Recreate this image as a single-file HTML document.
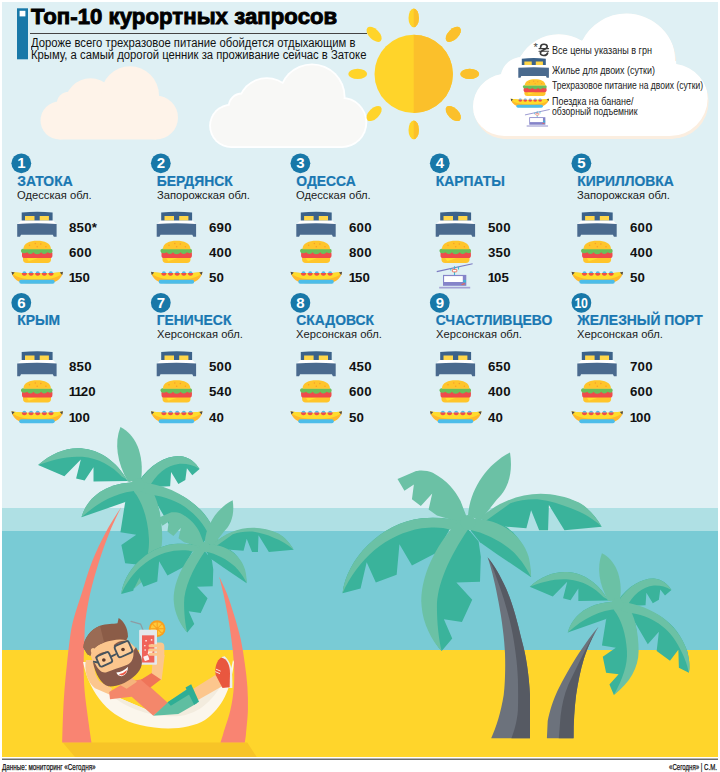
<!DOCTYPE html>
<html lang="ru"><head><meta charset="utf-8"><title>Топ-10 курортных запросов</title>
<style>
html,body{margin:0;padding:0;background:#fff;}
body{width:720px;height:772px;position:relative;overflow:hidden;font-family:"Liberation Sans",sans-serif;color:#1a1a1a;}
svg.bg{position:absolute;left:0;top:0;}
div{position:absolute;white-space:nowrap;transform-origin:0 50%;line-height:1;}
.title{left:30.6px;top:6.3px;font-size:22.5px;font-weight:bold;color:#000;transform:scaleX(0.985);-webkit-text-stroke:0.9px #000;letter-spacing:0.05px;}
.sub{left:31px;font-size:12px;transform:scaleX(0.94);color:#111;}
.num{width:20px;text-align:center;color:#fff;font-weight:bold;font-size:15px;line-height:20px;transform-origin:50% 50%;}
.n10{transform:scaleX(0.82);letter-spacing:-0.5px;}
.nm{font-size:13.9px;font-weight:bold;color:#1a78b2;-webkit-text-stroke:0.2px #1a78b2;}
.rg{font-size:11.6px;transform:scaleX(0.965);color:#1a1a1a;}
.vl{font-size:12.2px;font-weight:bold;color:#111;transform:scaleX(1.09);letter-spacing:0.2px;}
.vl i{font-style:normal;margin:0 -1.3px 0 -0.3px;}
.lg{font-size:11px;color:#222;}
.hr{font-size:16.5px;color:#3a3a3a;transform:scaleX(0.98);-webkit-text-stroke:0.35px #3a3a3a;}
.ast{font-size:11px;color:#3a3a3a;}
.ft{font-size:9.6px;color:#111;top:761.6px;-webkit-text-stroke:0.25px #111;}
</style></head><body>
<svg class="bg" width="720" height="772" viewBox="0 0 720 772">
<defs>
<symbol id="bed" width="40" height="26" viewBox="0 0 40 26" overflow="visible">
<path d="M4.5,9.4 V1 Q20,-0.7 35.4,1 V9.4 Z" fill="#3c6289"/>
<rect x="7.8" y="4.5" width="9.5" height="4.6" fill="#ffd648"/><rect x="22.5" y="4.5" width="9.2" height="4.6" fill="#ffd648"/>
<path d="M4.1,9 H35.8 L39.2,12.5 H0.3 Z" fill="#fff"/>
<path d="M0,12.4 Q19.7,11.2 39.4,12.4 V25.3 H36.6 L35.6,23.2 H3.8 L2.8,25.3 H0 Z" fill="#4a6a8e"/>
</symbol><symbol id="burger" width="32" height="23" viewBox="0 0 32 23" overflow="visible">
<path d="M2.1,17 H30.1 V19 Q30.1,22.4 26.5,22.4 H5.7 Q2.1,22.4 2.1,19 Z" fill="#ffc52b"/>
<path d="M5.8,17.6 H16.7 L7.9,20.6 Z" fill="#ffe32e"/>
<rect x="1.1" y="10.5" width="30.4" height="6.9" rx="2.6" fill="#ef4b4b"/>
<path d="M1.8,8.2 H29.9 Q31.9,8.4 31.7,10.6 Q31.3,12.9 29,12.6 Q27.4,12.2 26.6,11.6 Q25.2,13.6 23,13.4 Q21.2,13.2 20.3,11.7 Q18.6,13.9 16,13.7 Q13.6,13.5 12.6,11.7 Q11.4,13.5 9.2,13.3 Q7.2,13.1 6.3,11.6 Q5,12.7 3,12.7 Q0.2,12.6 0,10.4 Q-0.1,8.4 1.8,8.2 Z" fill="#6abf5b"/>
<path d="M2.5,8.6 C2.5,2.6 9,0.2 16.2,0.2 C23.5,0.2 30,2.6 30,8.6 Z" fill="#ffc52b"/>
<g fill="#f59d2e"><circle cx="8.6" cy="4.7" r="0.75"/><circle cx="14.4" cy="2.9" r="0.75"/><circle cx="19.9" cy="3.5" r="0.75"/><circle cx="16.3" cy="6.1" r="0.75"/><circle cx="25" cy="6.1" r="0.75"/></g>
</symbol><symbol id="banana" width="52" height="14" viewBox="0 0 52 14" overflow="visible"><path d="M0,1.4 Q25.7,4.6 51.5,1.4 C50.5,8 44,12.7 36,12.7 H15.5 C7.5,12.7 1,8 0,1.4 Z" fill="#ffb92a"/><path d="M0,1.4 Q25.7,4.6 51.5,1.4 C49,6.5 40,8.8 25.7,8.8 C11.5,8.8 2.5,6.5 0,1.4Z" fill="#ffdc2b"/><path d="M0,1.2 L3.2,2 L0.8,4.6 Z M51.5,1.2 L48.3,2 L50.7,4.6 Z" fill="#4b4b52"/><path d="M10.90,2.7 A2.0,1.9 0 0 1 14.90,2.7 Z" fill="#4fbbe8"/><path d="M10.30,2.6 A2.6,2.7 0 0 0 15.50,2.6 Z" fill="#ef4f49"/><path d="M17.55,2.7 A2.0,1.9 0 0 1 21.55,2.7 Z" fill="#4fbbe8"/><path d="M16.95,2.6 A2.6,2.7 0 0 0 22.15,2.6 Z" fill="#ef4f49"/><path d="M24.20,2.7 A2.0,1.9 0 0 1 28.20,2.7 Z" fill="#4fbbe8"/><path d="M23.60,2.6 A2.6,2.7 0 0 0 28.80,2.6 Z" fill="#ef4f49"/><path d="M30.85,2.7 A2.0,1.9 0 0 1 34.85,2.7 Z" fill="#4fbbe8"/><path d="M30.25,2.6 A2.6,2.7 0 0 0 35.45,2.6 Z" fill="#ef4f49"/><path d="M37.50,2.7 A2.0,1.9 0 0 1 41.50,2.7 Z" fill="#4fbbe8"/><path d="M36.90,2.6 A2.6,2.7 0 0 0 42.10,2.6 Z" fill="#ef4f49"/><rect x="7.7" y="9.3" width="35.5" height="4" rx="2" fill="#4cbde9"/></symbol><symbol id="cable" width="37" height="26" viewBox="0 0 37 26" overflow="visible">
<path d="M0.25,8.6 L36.1,0.7" stroke="#7c7bc2" stroke-width="1.1" fill="none"/>
<path d="M18,3.2 V12" stroke="#3bbcd6" stroke-width="1.1" fill="none"/>
<path d="M14.3,5.4 V7.6 M22,3.8 V6.6" stroke="#3bbcd6" stroke-width="1.1" fill="none"/>
<rect x="15.9" y="6.4" width="4.4" height="2.5" rx="0.7" fill="#fff" stroke="#f0634a" stroke-width="0.85"/>
<rect x="6.5" y="11.9" width="23.3" height="10.9" fill="#8584c9"/>
<rect x="7.6" y="13.1" width="18.7" height="5.9" fill="#fff"/>
<rect x="26.9" y="16.9" width="2.5" height="2.5" fill="#3bbcd6"/>
<path d="M24.8,21.3 L28.2,19.9 L28.2,21.2 L25.2,21.9 Z" fill="#f0634a"/>
<rect x="2.7" y="23.8" width="31" height="1.7" fill="#a3a2d4"/>
</symbol><g id="palmA">
<g fill="#3ab39b">
<path d="M35,168 C80,128 130,110 180,116 C245,124 292,170 318,218 L210,220 L210,175 L182,217 L155,210 L170,150 L118,203 Z"/>
<path d="M352,220 C388,165 440,138 482,139 C512,141 532,160 545,180 L522,200 L505,178 L500,215 L478,228 L455,190 L452,235 L385,238 Z"/>
<path d="M172,333 C190,268 250,224 342,222 L345,250 L315,283 Z"/>
<path d="M340,245 L310,285 L295,380 L345,388 L298,420 L310,478 L355,483 L322,520 L338,558 C400,500 430,420 420,330 C415,290 400,255 385,238 Z"/>
<path d="M385,240 C470,238 565,290 602,400 C612,440 611,462 608,478 L572,460 L570,395 L540,435 L492,400 L500,330 L460,375 L395,265 Z"/>
</g>
<g fill="#6bc1a5">
<path d="M318,220 C285,160 275,100 295,48 C340,70 372,130 360,218 Z"/>
<path d="M35,168 C80,128 130,110 180,116 C245,124 292,170 318,218 L340,228 L300,205 C270,172 225,146 175,142 C125,138 80,152 35,168 Z"/>
<path d="M352,224 C388,165 440,138 482,139 C512,141 532,160 545,180 C525,168 505,163 482,164 C440,168 405,200 385,240 L345,235 Z"/>
<path d="M172,333 C190,268 250,224 342,222 L352,248 C290,252 230,280 172,333 Z"/>
<path d="M340,225 L388,238 C412,270 427,330 427,400 C427,460 395,515 338,558 C370,500 388,450 385,400 C382,340 365,285 338,252 Z"/>
<path d="M355,222 C450,228 565,285 602,400 C612,440 611,462 608,478 C600,440 590,420 575,390 C540,315 470,270 390,262 L350,248 Z"/>
<circle cx="350" cy="232" r="22"/>
</g></g><g id="palmB">
<g fill="#3ab39b">
<path d="M45,552 C60,430 180,300 330,282 C390,275 440,285 480,295 L430,322 L385,405 L295,452 L250,375 L240,485 L165,513 L132,440 L110,535 Z"/>
<path d="M545,280 C636,200 766,170 896,227 C930,245 960,280 978,312 L844,325 L788,234 L785,325 L753,325 L724,253 L707,318 L636,312 L551,288 Z"/>
<path d="M495,318 L535,365 L543,420 L540,510 L455,513 L512,575 L475,655 L410,645 L440,715 L402,760 C340,690 320,560 370,440 C395,380 430,335 465,305 Z"/>
<path d="M500,318 L540,368 L600,410 L724,494 C715,400 680,330 610,300 C570,285 540,285 515,288 Z"/>
</g>
<g fill="#6bc1a5">
<path d="M490,272 L470,220 C450,180 420,145 370,118 C350,108 320,108 310,112 L243,140 L268,183 L302,160 L295,213 L327,238 L368,193 L355,250 L385,272 L480,300 Z"/>
<path d="M497,270 C505,180 560,90 648,45 C660,120 640,180 600,215 L540,292 Z"/>
<path d="M45,552 C60,430 180,300 330,282 C390,275 440,285 485,295 L470,325 L430,322 C410,316 380,312 330,318 C200,340 100,430 45,552 Z"/>
<path d="M540,282 C636,195 766,165 896,225 C930,243 960,280 978,312 C950,285 910,262 870,247 C830,230 790,218 753,214 C715,212 680,218 649,228 L560,292 Z"/>
<path d="M455,300 C380,380 320,500 330,600 C335,660 365,720 402,760 C392,720 385,660 385,600 C385,520 430,420 497,322 L500,290 Z"/>
<path d="M510,285 C600,280 690,335 715,420 C722,450 724,470 724,494 C700,445 680,425 662,405 C620,365 560,335 500,322 Z"/>
<circle cx="497" cy="297" r="27"/>
</g></g><clipPath id="sunR"><rect x="413.7" y="0" width="100" height="160"/></clipPath>
</defs>
<rect x="0" y="0" width="720" height="772" fill="#fff"/>
<rect x="2" y="2" width="716" height="507" fill="#dff0f4"/>
<rect x="2" y="508" width="716" height="23" fill="#afe0e4"/>
<rect x="2" y="531" width="716" height="119.5" fill="#79cbd5"/>
<rect x="2" y="650" width="716" height="107" fill="#ffd52b"/>
<rect x="2" y="758.6" width="716" height="1.2" fill="#4a4a4a"/>
<!-- header -->
<rect x="17" y="8.3" width="11" height="51" fill="#1878a8"/>
<rect x="19.6" y="10.8" width="5.8" height="5.6" fill="#fff"/>
<rect x="30" y="33" width="337" height="1" fill="#444"/>
<g transform="translate(40.5,66.25) scale(1.0)"><g fill="#fef3e9"><circle cx="19" cy="54.25" r="19.00"/><circle cx="115.5" cy="51.25" r="22.00"/><circle cx="28.25" cy="37.5" r="12.00"/><circle cx="50" cy="37.5" r="25.50"/><circle cx="89.5" cy="29" r="29.00"/><rect x="19" y="40.00" width="96.5" height="33.25"/></g></g><g transform="translate(209.5,63.75) scale(1.145)"><g fill="#ffffff"><circle cx="19" cy="54.25" r="19.30"/><circle cx="115.5" cy="51.25" r="22.30"/><circle cx="28.25" cy="37.5" r="12.30"/><circle cx="50" cy="37.5" r="25.80"/><circle cx="89.5" cy="29" r="29.30"/><rect x="19" y="40.00" width="96.5" height="33.55"/></g><g fill="#f8f8f6"><circle cx="19" cy="54.25" r="17.70"/><circle cx="115.5" cy="51.25" r="20.70"/><circle cx="28.25" cy="37.5" r="10.70"/><circle cx="50" cy="37.5" r="24.20"/><circle cx="89.5" cy="29" r="27.70"/><rect x="19" y="40.00" width="96.5" height="31.95"/></g></g><circle cx="413.7" cy="73.9" r="39.2" fill="#ffd42a"/><ellipse cx="413.7" cy="17.900000000000006" rx="5.2" ry="9.4" fill="#ffd42a" transform="rotate(0 413.7 73.9)"/><ellipse cx="413.7" cy="17.900000000000006" rx="5.2" ry="9.4" fill="#ffd42a" transform="rotate(45 413.7 73.9)"/><ellipse cx="413.7" cy="17.900000000000006" rx="5.2" ry="9.4" fill="#ffd42a" transform="rotate(90 413.7 73.9)"/><ellipse cx="413.7" cy="17.900000000000006" rx="5.2" ry="9.4" fill="#ffd42a" transform="rotate(135 413.7 73.9)"/><ellipse cx="413.7" cy="17.900000000000006" rx="5.2" ry="9.4" fill="#ffd42a" transform="rotate(180 413.7 73.9)"/><ellipse cx="413.7" cy="17.900000000000006" rx="5.2" ry="9.4" fill="#ffd42a" transform="rotate(225 413.7 73.9)"/><ellipse cx="413.7" cy="17.900000000000006" rx="5.2" ry="9.4" fill="#ffd42a" transform="rotate(270 413.7 73.9)"/><ellipse cx="413.7" cy="17.900000000000006" rx="5.2" ry="9.4" fill="#ffd42a" transform="rotate(315 413.7 73.9)"/><g clip-path="url(#sunR)"><circle cx="413.7" cy="73.9" r="39.2" fill="#fbc02b"/><ellipse cx="413.7" cy="17.900000000000006" rx="5.2" ry="9.4" fill="#fbc02b" transform="rotate(0 413.7 73.9)"/><ellipse cx="413.7" cy="17.900000000000006" rx="5.2" ry="9.4" fill="#fbc02b" transform="rotate(45 413.7 73.9)"/><ellipse cx="413.7" cy="17.900000000000006" rx="5.2" ry="9.4" fill="#fbc02b" transform="rotate(90 413.7 73.9)"/><ellipse cx="413.7" cy="17.900000000000006" rx="5.2" ry="9.4" fill="#fbc02b" transform="rotate(135 413.7 73.9)"/><ellipse cx="413.7" cy="17.900000000000006" rx="5.2" ry="9.4" fill="#fbc02b" transform="rotate(180 413.7 73.9)"/><ellipse cx="413.7" cy="17.900000000000006" rx="5.2" ry="9.4" fill="#fbc02b" transform="rotate(225 413.7 73.9)"/><ellipse cx="413.7" cy="17.900000000000006" rx="5.2" ry="9.4" fill="#fbc02b" transform="rotate(270 413.7 73.9)"/><ellipse cx="413.7" cy="17.900000000000006" rx="5.2" ry="9.4" fill="#fbc02b" transform="rotate(315 413.7 73.9)"/></g><clipPath id="lgc" transform="translate(473,13.6) scale(1.715)"><circle cx="19" cy="54.25" r="19"/><circle cx="115.5" cy="51.25" r="22"/><circle cx="28.25" cy="37.5" r="12"/><circle cx="50" cy="37.5" r="25.5"/><circle cx="89.5" cy="29" r="29"/><rect x="19" y="40" width="96.5" height="33.25"/></clipPath><g clip-path="url(#lgc)"><g transform="translate(473,13.6) scale(1.715)"><g fill="#fbeee0"><circle cx="19" cy="54.25" r="19.00"/><circle cx="115.5" cy="51.25" r="22.00"/><circle cx="28.25" cy="37.5" r="12.00"/><circle cx="50" cy="37.5" r="25.50"/><circle cx="89.5" cy="29" r="29.00"/><rect x="19" y="40.00" width="96.5" height="33.25"/></g></g><g transform="translate(471.8,10.399999999999999) scale(1.715)"><g fill="#ffffff"><circle cx="19" cy="54.25" r="19.00"/><circle cx="115.5" cy="51.25" r="22.00"/><circle cx="28.25" cy="37.5" r="12.00"/><circle cx="50" cy="37.5" r="25.50"/><circle cx="89.5" cy="29" r="29.00"/><rect x="19" y="40.00" width="96.5" height="33.25"/></g></g></g>
<path d="M487.6,557.2 C492,570 496,588 498.5,601.8 C502,620 504.5,640 505,653.6 C505.5,668 505,685 503.7,695 C501,712 496,728 491.2,738.2 L530,738.2 L530,695 C529,675 526,655 521.8,640.6 C517,620 512,602 506.2,588.8 C500,575 494,565 487.6,557.2 Z" fill="#6c727c"/>
<path d="M487.6,557.2 C491,563 494,570 495.9,575.9 C503,595 508,612 511.4,627.7 C515,645 517.5,665 517.9,679.4 C518.2,690 518.2,700 517.9,710.5 C517,722 514,732 511.4,738.2 L530,738.2 L530,695 C529,675 526,655 521.8,640.6 C517,620 512,602 506.2,588.8 C500,575 494,565 487.6,557.2 Z" fill="#565a63"/><use href="#palmB" transform="translate(330,440) scale(0.27778)"/><path d="M598.7,626.4 C592,634 585,644 578.7,653.6 C570,667 563,680 558,689.8 C553,700 549.5,712 547.7,720.9 L546.9,738.2 L573.6,738.2 C573.5,722 574.5,708 576.1,695 C578,682 580.5,670 583.9,658.7 C588,646 593,636 598.7,626.4 Z" fill="#6c727c"/>
<path d="M598.7,626.4 C590,640 580,660 568.4,684.6 C564,695 562,705 560.6,715.7 L558.8,738.2 L573.6,738.2 C573.5,722 574.5,708 576.1,695 C578,682 580.5,670 583.9,658.7 C588,646 593,636 598.7,626.4 Z" fill="#565a63"/><use href="#palmA" transform="translate(520,540) scale(0.27778)"/><path d="M62.7,742.5 H247.3 L256.7,757 H75 Z" fill="#f7c427"/><path d="M121.3,507 C118.8,511.0 111.4,521.9 106.5,531.1 C101.6,540.3 95.9,551.8 91.8,562.2 C87.7,572.6 84.8,583.7 81.7,593.3 C78.6,602.9 75.4,612.3 73.4,619.7 C71.5,627.1 71.1,630.4 70.0,637.7 C68.9,645.0 67.9,655.0 67.0,663.6 C66.1,672.2 65.2,680.9 64.5,689.5 C63.8,698.1 63.4,706.5 63.0,715.4 C62.6,724.2 62.3,738.1 62.2,742.6 L91.5,742.6 C90.8,738.1 88.8,724.2 87.6,715.4 C86.4,706.5 85.2,698.1 84.5,689.5 C83.8,680.9 83.7,672.2 83.7,663.6 C83.7,655.0 84.2,645.0 84.5,637.7 C84.8,630.4 84.5,627.1 85.5,619.7 C86.5,612.3 88.0,602.9 90.2,593.3 C92.4,583.7 95.5,572.6 98.8,562.2 C102.1,551.8 106.3,540.3 110.1,531.1 C113.8,521.9 119.4,511.0 121.3,507.0 Z" fill="#f98472"/><path d="M219.1,576.5 C219.8,579.3 221.8,586.6 223.3,593.3 C224.8,600.0 226.6,608.9 228.0,616.7 C229.4,624.5 230.5,632.2 231.5,640.0 C232.5,647.8 233.5,655.6 233.9,663.4 C234.3,671.2 234.5,678.9 233.9,686.7 C233.3,694.5 232.2,702.3 230.4,710.1 C228.6,717.9 225.0,728.0 223.3,733.4 C221.7,738.8 221.0,741.0 220.5,742.5 L244.8,742.5 C245.0,741.0 245.5,738.8 246.0,733.4 C246.5,728.0 247.7,717.9 247.9,710.1 C248.1,702.3 247.9,694.5 247.4,686.7 C246.9,678.9 245.9,671.2 244.8,663.4 C243.7,655.6 242.6,647.8 240.9,640.0 C239.2,632.2 236.9,624.5 234.6,616.7 C232.2,608.9 229.4,600.0 226.8,593.3 C224.2,586.6 220.4,579.3 219.1,576.5 Z" fill="#f98472"/><use href="#palmA" transform="translate(27.0,411.9) scale(0.31667)"/><use href="#palmB" transform="translate(112.96,492.03) scale(0.18472)"/><path d="M83,662 C90,695 110,718 140,725 C165,731 190,729 205,720 C222,708 231,690 234,662 L233,660 C231,672 227,680 222,684 L197,700 L178,711 L150,711 L110,694 C98,688 90,676 86,662 Z" fill="#fbf6ec"/><path d="M197,700 L178,711 L150,711 L110,694 C130,712 160,718 180,716 C195,714 210,705 222,684 Z" fill="#f3ecde"/><g transform="translate(70,615) scale(0.166667)">
<path d="M95,270 C85,330 100,400 150,440 L240,478 L252,440 L180,400 C150,370 140,320 150,270 Z" fill="#fcc68d"/>
<path d="M235,462 L330,405 L430,385 L590,530 L500,605 L370,490 L240,505 Z" fill="#f4876b"/>
<path d="M300,420 L372,378 L402,400 L340,442 Z" fill="#f6b47c"/>
<path d="M425,388 L495,345 L547,385 L480,437 Z" fill="#ef7459"/>
<path d="M490,350 L498,240 L568,240 L550,390 Z" fill="#fcc68d"/>
<circle cx="523" cy="82" r="50" fill="#f99f1e"/><circle cx="523" cy="82" r="39" fill="#ffc93a"/>
<path d="M523,42 V122 M483,82 H563 M495,54 L551,110 M551,54 L495,110" stroke="#f99f1e" stroke-width="6" fill="none"/>
<path d="M440,95 L424,55 L366,38" stroke="#8d9ca3" stroke-width="7" fill="none" stroke-linejoin="round" stroke-linecap="round"/>
<rect x="478" y="165" width="88" height="98" rx="24" fill="#fcc68d"/>
<rect x="415" y="88" width="107" height="210" rx="6" fill="#e4e9ed"/>
<rect x="432" y="122" width="74" height="163" fill="#f0635a"/>
<g fill="#fff" opacity="0.9"><rect x="452" y="150" width="9" height="9"/><rect x="485" y="145" width="9" height="9"/><rect x="445" y="180" width="8" height="8"/><rect x="488" y="175" width="8" height="8"/><rect x="447" y="206" width="8" height="8"/>
<rect x="443" y="245" width="30" height="28" rx="4" transform="rotate(-20 458 259)"/><rect x="468" y="212" width="26" height="26" rx="4" transform="rotate(15 481 225)"/></g>
<path d="M480,185 H520 M478,210 H520 M480,235 H520" stroke="#fcc68d" stroke-width="18" stroke-linecap="round"/>
<path d="M120,230 C130,170 200,140 330,135 L392,195 L422,300 L300,420 L215,420 L140,290 Z" fill="#fcc68d"/>
<path d="M80,195 C85,140 120,90 180,65 C220,52 260,55 285,50 L292,18 C320,35 348,75 348,130 L338,152 C300,140 250,150 205,165 C165,180 135,200 122,245 L104,236 Z" fill="#8b5c47"/>
<path d="M80,195 C85,140 120,90 180,65 L205,165 C165,180 135,200 122,245 L104,236 Z" fill="#9a6b54"/>
<ellipse cx="146" cy="226" rx="17" ry="30" transform="rotate(-25 146 226)" fill="#fcc68d"/>
<path d="M138,285 C150,350 190,420 230,428 C280,432 330,412 380,372 C420,340 442,300 427,250 L396,193 L380,215 C385,260 370,290 340,300 C300,315 250,330 215,345 C185,350 165,320 150,290 Z" fill="#87594a"/>
<path d="M278,345 Q320,340 348,310 Q347,357 310,367 Q285,366 278,345 Z" fill="#fff"/>
<path d="M292,356 Q322,350 342,330 Q338,357 310,363 Z" fill="#ec5a4a"/>
<path d="M156,254 Q180,228 214,226 M268,182 Q295,158 328,160" stroke="#8b5c47" stroke-width="10" fill="none" stroke-linecap="round"/>
<g fill="none" stroke="#46545e" stroke-width="11" stroke-linejoin="round">
<rect x="165" y="232" width="82" height="68" rx="14" transform="rotate(-24 206 266)" fill="#ffffff" fill-opacity="0.12"/>
<rect x="275" y="168" width="92" height="74" rx="14" transform="rotate(-24 321 205)" fill="#ffffff" fill-opacity="0.12"/>
<path d="M246,250 L278,234 M168,285 L138,280"/></g>
<circle cx="203" cy="270" r="11" fill="#5a392b"/><circle cx="318" cy="207" r="11" fill="#5a392b"/>
</g><g transform="translate(130,630) scale(0.166667)">
<path d="M140,514 L230,432 L345,352 L402,440 L290,504 Z" fill="#5fbea1"/>
<path d="M225,434 L345,355 L357,385 L245,454 Z" fill="#2eae95"/>
<path d="M380,352 L515,268 L553,338 L408,420 Z" fill="#fcc68d"/>
<path d="M333,345 L367,325 L414,430 L385,449 Z" fill="#2eae95"/>
<path d="M546,163 L568,158 C606,190 618,240 614,348 L594,348 C600,260 590,200 546,163 Z" fill="#eceeee"/>
<path d="M515,272 C505,230 520,180 548,165 C582,172 600,210 600,260 L598,344 L555,348 Z" fill="#e9573f"/>
<path d="M512,250 L540,262 M516,235 L544,247" stroke="#fff" stroke-width="5"/>
</g>
<circle cx="21.3" cy="163.3" r="9.9" fill="#1878a8"/><use href="#bed" x="17.2" y="211.5"/><use href="#burger" x="20.9" y="240.6"/><use href="#banana" x="11.5" y="270.5"/><circle cx="160.8" cy="163.3" r="9.9" fill="#1878a8"/><use href="#bed" x="156.7" y="211.5"/><use href="#burger" x="160.4" y="240.6"/><use href="#banana" x="151.0" y="270.5"/><circle cx="300.4" cy="163.3" r="9.9" fill="#1878a8"/><use href="#bed" x="296.3" y="211.5"/><use href="#burger" x="300.0" y="240.6"/><use href="#banana" x="290.6" y="270.5"/><circle cx="439.8" cy="163.3" r="9.9" fill="#1878a8"/><use href="#bed" x="435.7" y="211.5"/><use href="#burger" x="439.4" y="240.6"/><use href="#cable" x="436.5" y="263.0"/><circle cx="581.4" cy="163.3" r="9.9" fill="#1878a8"/><use href="#bed" x="577.3" y="211.5"/><use href="#burger" x="581.0" y="240.6"/><use href="#banana" x="571.6" y="270.5"/><circle cx="21.3" cy="302.8" r="9.9" fill="#1878a8"/><use href="#bed" x="17.2" y="351.0"/><use href="#burger" x="20.9" y="380.1"/><use href="#banana" x="11.5" y="410.0"/><circle cx="160.8" cy="302.8" r="9.9" fill="#1878a8"/><use href="#bed" x="156.7" y="351.0"/><use href="#burger" x="160.4" y="380.1"/><use href="#banana" x="151.0" y="410.0"/><circle cx="300.4" cy="302.8" r="9.9" fill="#1878a8"/><use href="#bed" x="296.3" y="351.0"/><use href="#burger" x="300.0" y="380.1"/><use href="#banana" x="290.6" y="410.0"/><circle cx="439.8" cy="302.8" r="9.9" fill="#1878a8"/><use href="#bed" x="435.7" y="351.0"/><use href="#burger" x="439.4" y="380.1"/><use href="#banana" x="430.0" y="410.0"/><circle cx="581.4" cy="302.8" r="9.9" fill="#1878a8"/><use href="#bed" x="577.3" y="351.0"/><use href="#burger" x="581.0" y="380.1"/><use href="#banana" x="571.6" y="410.0"/>
<g fill="none" stroke="#3a3a3a" stroke-linecap="round"><path d="M540.6,47.2 C540.6,43.6 547,43.2 547.2,46.6 C547.4,49.6 540.4,50 540.4,53 C540.4,56.4 547,56.2 547.6,53" stroke-width="1.7"/><path d="M539,48.6 H548.6 M539,51.2 H548.6" stroke-width="1.1"/></g><use href="#bed" transform="translate(518.3,58) scale(0.777)"/><use href="#burger" transform="translate(522.8,79) scale(0.755)"/><use href="#banana" transform="translate(510.7,97.8) scale(0.745)"/><use href="#cable" transform="translate(524.8,109) scale(0.69)"/>
</svg>
<div class="title">Топ-10 курортных запросов</div>
<div class="sub" style="top:36.6px">Дороже всего трехразовое питание обойдется отдыхающим в</div>
<div class="sub" style="top:49.3px">Крыму, а самый дорогой ценник за проживание сейчас в Затоке</div>
<div class="num" style="left:11.3px;top:153.4px">1</div><div class="nm" style="left:17.2px;top:174.7px">ЗАТОКА</div><div class="rg" style="left:17.2px;top:188.8px">Одесская обл.</div><div class="vl" style="left:69.4px;top:221.5px">850*</div><div class="vl" style="left:69.4px;top:246.8px">600</div><div class="vl" style="left:69.4px;top:272.0px"><i>1</i>50</div><div class="num" style="left:150.8px;top:153.4px">2</div><div class="nm" style="left:156.7px;top:174.7px">БЕРДЯНСК</div><div class="rg" style="left:156.7px;top:188.8px">Запорожская обл.</div><div class="vl" style="left:208.9px;top:221.5px">690</div><div class="vl" style="left:208.9px;top:246.8px">400</div><div class="vl" style="left:208.9px;top:272.0px">50</div><div class="num" style="left:290.4px;top:153.4px">3</div><div class="nm" style="left:296.3px;top:174.7px">ОДЕССА</div><div class="rg" style="left:296.3px;top:188.8px">Одесская обл.</div><div class="vl" style="left:348.5px;top:221.5px">600</div><div class="vl" style="left:348.5px;top:246.8px">800</div><div class="vl" style="left:348.5px;top:272.0px"><i>1</i>50</div><div class="num" style="left:429.8px;top:153.4px">4</div><div class="nm" style="left:435.7px;top:174.7px">КАРПАТЫ</div><div class="vl" style="left:487.9px;top:221.5px">500</div><div class="vl" style="left:487.9px;top:246.8px">350</div><div class="vl" style="left:487.9px;top:272.0px"><i>1</i>05</div><div class="num" style="left:571.4px;top:153.4px">5</div><div class="nm" style="left:577.3px;top:174.7px">КИРИЛЛОВКА</div><div class="rg" style="left:577.3px;top:188.8px">Запорожская обл.</div><div class="vl" style="left:629.5px;top:221.5px">600</div><div class="vl" style="left:629.5px;top:246.8px">400</div><div class="vl" style="left:629.5px;top:272.0px">50</div><div class="num" style="left:11.3px;top:292.9px">6</div><div class="nm" style="left:17.2px;top:314.2px">КРЫМ</div><div class="vl" style="left:69.4px;top:361.0px">850</div><div class="vl" style="left:69.4px;top:386.2px"><i>1</i><i>1</i>20</div><div class="vl" style="left:69.4px;top:411.5px"><i>1</i>00</div><div class="num" style="left:150.8px;top:292.9px">7</div><div class="nm" style="left:156.7px;top:314.2px">ГЕНИЧЕСК</div><div class="rg" style="left:156.7px;top:328.3px">Херсонская обл.</div><div class="vl" style="left:208.9px;top:361.0px">500</div><div class="vl" style="left:208.9px;top:386.2px">540</div><div class="vl" style="left:208.9px;top:411.5px">40</div><div class="num" style="left:290.4px;top:292.9px">8</div><div class="nm" style="left:296.3px;top:314.2px">СКАДОВСК</div><div class="rg" style="left:296.3px;top:328.3px">Херсонская обл.</div><div class="vl" style="left:348.5px;top:361.0px">450</div><div class="vl" style="left:348.5px;top:386.2px">600</div><div class="vl" style="left:348.5px;top:411.5px">50</div><div class="num" style="left:429.8px;top:292.9px">9</div><div class="nm" style="left:435.7px;top:314.2px">СЧАСТЛИВЦЕВО</div><div class="rg" style="left:435.7px;top:328.3px">Херсонская обл.</div><div class="vl" style="left:487.9px;top:361.0px">650</div><div class="vl" style="left:487.9px;top:386.2px">400</div><div class="vl" style="left:487.9px;top:411.5px">40</div><div class="num n10" style="left:571.4px;top:292.9px">10</div><div class="nm" style="left:577.3px;top:314.2px">ЖЕЛЕЗНЫЙ ПОРТ</div><div class="rg" style="left:577.3px;top:328.3px">Херсонская обл.</div><div class="vl" style="left:629.5px;top:361.0px">700</div><div class="vl" style="left:629.5px;top:386.2px">600</div><div class="vl" style="left:629.5px;top:411.5px"><i>1</i>00</div>
<div class="lg" style="left:552px;top:45.3px;transform:scaleX(0.825)">Все цены указаны в грн</div><div class="lg" style="left:552px;top:65.1px;transform:scaleX(0.812)">Жилье для двоих (сутки)</div><div class="lg" style="left:552px;top:79.8px;transform:scaleX(0.775)">Трехразовое питание на двоих (сутки)</div><div class="lg" style="left:552px;top:96.0px;transform:scaleX(0.813)">Поездка на банане/</div><div class="lg" style="left:552px;top:106.3px;transform:scaleX(0.791)">обзорный подъемник</div><div class="ast" style="left:533.4px;top:42.3px">*</div>
<div class="ft" style="left:2.2px;transform:scaleX(0.66)">Данные: мониторинг «Сегодня»</div>
<div class="ft" style="left:669.3px;transform:scaleX(0.635)">«Сегодня» | С.М.</div>
</body></html>
